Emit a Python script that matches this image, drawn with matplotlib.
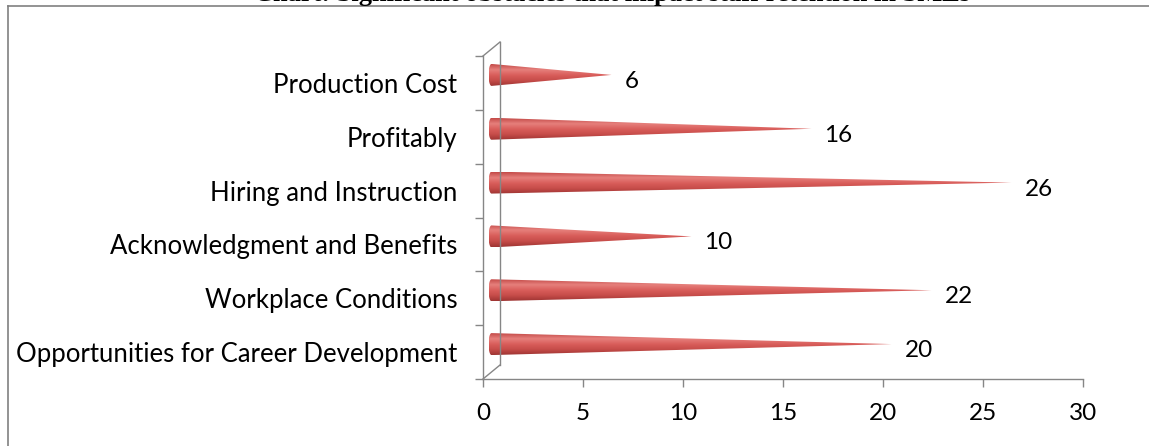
import matplotlib
matplotlib.use("Agg")
import matplotlib.pyplot as plt
import numpy as np
from matplotlib.patches import Polygon
from matplotlib.colors import LinearSegmentedColormap
from matplotlib.lines import Line2D

categories = ["Production Cost", "Profitably", "Hiring and Instruction",
              "Acknowledgment and Benefits", "Workplace Conditions",
              "Opportunities for Career Development"]
values = [6, 16, 26, 10, 22, 20]
xticks = [0, 5, 10, 15, 20, 25, 30]
title = "Chart: Significant obstacles that impact staff retention in SMEs"

W, H = 1149, 446
fig = plt.figure(figsize=(W / 100, H / 100), dpi=100)
ax = fig.add_axes([483 / W, 1 - 379 / H, 600 / W, 323 / H])

gray = "#868686"
font = "Lato"
fs_cat = 18.5
fs_num = 17.5

xlim = (0, 30)
ylim = (len(categories) - 0.5, -0.5)
px_x = 600 / 30.0          # pixels per x unit
px_y = 323 / len(categories)  # pixels per category

# 3d depth offset
ddx = 17 / px_x
ddy = 14 / px_y

cmap = LinearSegmentedColormap.from_list(
    "cone", ["#C44A48", "#E6807C", "#D95E5B", "#C64C49", "#9E3533"])

for i, v in enumerate(values):
    cy = i - (8 / px_y)
    bx = ddx / 2
    h = 11 / px_y
    rx = 3 / px_x
    tip = v + bx
    t = np.linspace(np.pi / 2, 3 * np.pi / 2, 30)
    pts = [(bx + rx * np.cos(a), cy - h * np.sin(a)) for a in t]
    pts.append((tip, cy))
    poly = Polygon(pts, closed=True, facecolor="none", edgecolor="none")
    ax.add_patch(poly)
    grad = np.linspace(0, 1, 64).reshape(-1, 1)
    im = ax.imshow(grad, extent=(bx - rx, tip, cy + h, cy - h), origin="upper",
                   aspect="auto", cmap=cmap, interpolation="bilinear")
    im.set_clip_path(poly)
    ax.text(tip + 13 / px_x, i - 1.5 / px_y, str(v), va="center", ha="left",
            fontsize=fs_num, family=font, color="black")

ax.set_xlim(*xlim)
ax.set_ylim(*ylim)

# back wall lines
for xs, ys in [([0, ddx], [ylim[1], ylim[1] - ddy]),
               ([0, ddx], [ylim[0], ylim[0] - ddy]),
               ([ddx, ddx], [ylim[1] - ddy, ylim[0] - ddy])]:
    ax.add_line(Line2D(xs, ys, color=gray, lw=1.0, clip_on=False))

for s in ["top", "right"]:
    ax.spines[s].set_visible(False)
for s in ["left", "bottom"]:
    ax.spines[s].set_color(gray)
    ax.spines[s].set_linewidth(1.0)

ax.set_xticks(xticks)
ax.set_xticklabels([str(x) for x in xticks], fontsize=fs_num, family=font)
ax.tick_params(axis="x", length=6, width=1.0, color=gray, pad=11)

ax.set_yticks(range(len(categories)))
ax.set_yticklabels(categories, fontsize=fs_cat, family=font)
ax.set_yticks(np.arange(-0.5, len(categories)), minor=True)
ax.tick_params(axis="y", which="major", length=0, pad=18.5)
ax.tick_params(axis="y", which="minor", length=6, width=1.0, color=gray)

# outer frame (only top and left visible)
fig.add_artist(Line2D([7.5 / W, 1], [1 - 5.5 / H, 1 - 5.5 / H],
                      transform=fig.transFigure, color="#808080", lw=1.2))
fig.add_artist(Line2D([7.5 / W, 7.5 / W], [0, 1 - 5.5 / H],
                      transform=fig.transFigure, color="#808080", lw=1.2))

fig.text(612 / W, 1 - 1 / H, title, ha="center", va="baseline",
         fontsize=19, fontweight="bold", family="Liberation Serif")

fig.savefig("out.png", dpi=100)
